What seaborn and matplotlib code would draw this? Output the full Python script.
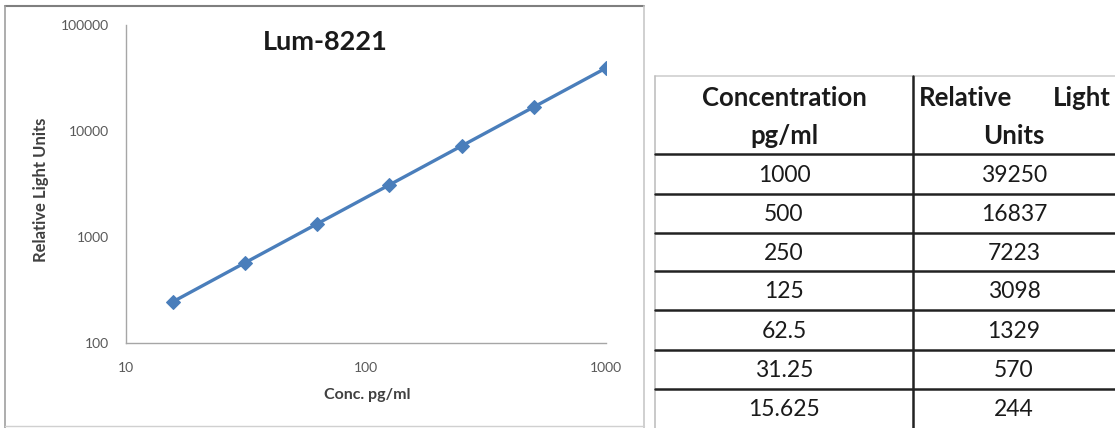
import matplotlib
matplotlib.use("Agg")
import matplotlib.pyplot as plt
import seaborn as sns
import pandas as pd

# ---- data ----
conc = [1000, 500, 250, 125, 62.5, 31.25, 15.625]
rlu = [39250, 16837, 7223, 3098, 1329, 570, 244]
conc_labels = ["1000", "500", "250", "125", "62.5", "31.25", "15.625"]
rlu_labels = ["39250", "16837", "7223", "3098", "1329", "570", "244"]
title = "Lum-8221"
xlabel = "Conc. pg/ml"
ylabel = "Relative Light Units"
header_left = ["Concentration", "pg/ml"]
header_right_words = ["Relative", "Light"]
header_right_line2 = "Units"

sns.set_theme(style="white")
plt.rcParams['font.family'] = ['Lato', 'DejaVu Sans']

W, H = 1115, 428
fig = plt.figure(figsize=(W / 100, H / 100), dpi=100)
fig.patch.set_facecolor("white")

# overlay axes in pixel coordinates for frame and table
ov = fig.add_axes([0, 0, 1, 1], zorder=0)
ov.set_xlim(0, W)
ov.set_ylim(H, 0)
ov.axis("off")

# chart frame
ov.plot([5, 644], [6, 6], color="#7f7f7f", lw=1.5)
ov.plot([5, 5], [6, H], color="#a0a0a0", lw=1.2)
ov.plot([644, 644], [6, H], color="#c8c8c8", lw=1.2)
ov.plot([5, 644], [426, 426], color="#d0d0d0", lw=1.0)

# ---- chart ----
x0, x1, y0, y1 = 126, 606, 25, 343
ax = fig.add_axes([x0 / W, 1 - y1 / H, (x1 - x0) / W, (y1 - y0) / H], zorder=2)
ax.patch.set_alpha(0)
df = pd.DataFrame({"conc": conc, "rlu": rlu})
sns.lineplot(data=df, x="conc", y="rlu", ax=ax, color="#4A7EBB", lw=2.4,
             marker="D", markersize=7, markeredgecolor="#4A7EBB",
             markerfacecolor="#4A7EBB")
ax.set_xscale("log")
ax.set_yscale("log")
ax.set_xlim(10, 1000)
ax.set_ylim(100, 100000)
for s in ["top", "right"]:
    ax.spines[s].set_visible(False)
for s in ["left", "bottom"]:
    ax.spines[s].set_color("#a6a6a6")
    ax.spines[s].set_linewidth(1.0)
ax.tick_params(which="major", direction="inout", length=6, width=0.8,
               color="#a6a6a6", labelsize=10, labelcolor="#595959")
ax.tick_params(axis="y", which="major", pad=9)
ax.tick_params(axis="x", which="major", pad=11)
ax.tick_params(which="minor", direction="inout", length=3.5, width=0.6,
               color="#b0b0b0")
ax.xaxis.set_major_formatter(matplotlib.ticker.FuncFormatter(lambda v, p: f"{v:g}"))
ax.yaxis.set_major_formatter(matplotlib.ticker.FuncFormatter(lambda v, p: f"{v:.0f}"))
ax.set_xlabel(xlabel, fontsize=11.5, fontweight="bold", color="#404040")
ax.set_ylabel(ylabel, fontsize=12, fontweight="bold", color="#404040")
ax.yaxis.set_label_coords((49 - x0) / (x1 - x0), (y1 - 190) / (y1 - y0))
ax.xaxis.set_label_coords((367 - x0) / (x1 - x0), (y1 - 388) / (y1 - y0))
ax.grid(False)

fig.text(325 / W, 1 - 42 / H, title, fontsize=19.5, fontweight="bold",
         color="#1a1a1a", ha="center", va="center")

# ---- table ----
tl, tm, tr = 655, 913, 1115
ttop = 76
row_lines = [154, 194, 233, 271, 310, 350, 389, 428]
ov.plot([tl, tr], [ttop, ttop], color="#d0d0d0", lw=1.2)
ov.plot([tl, tl], [ttop, H], color="#c0c0c0", lw=1.2)
ov.plot([tm, tm], [ttop, H], color="#222222", lw=1.8)
for yy in row_lines[:-1]:
    ov.plot([tl, tr], [yy, yy], color="#222222", lw=1.8)

tc = "#1a1a1a"
fsh = 18.5
fs = 16.5
cl = (tl + tm) / 2
cr = (tm + tr) / 2
ov.text(cl, 98, header_left[0], fontsize=fsh, fontweight="bold", color=tc,
        ha="center", va="center")
ov.text(cl, 136, header_left[1], fontsize=fsh, fontweight="bold", color=tc,
        ha="center", va="center")
ov.text(919, 98, header_right_words[0], fontsize=fsh, fontweight="bold", color=tc,
        ha="left", va="center")
ov.text(1111, 98, header_right_words[1], fontsize=fsh, fontweight="bold", color=tc,
        ha="right", va="center")
ov.text(cr, 136, header_right_line2, fontsize=fsh, fontweight="bold", color=tc,
        ha="center", va="center")
for i, (a, b) in enumerate(zip(conc_labels, rlu_labels)):
    yc = (row_lines[i] + row_lines[i + 1]) / 2 + 1
    ov.text(cl, yc, a, fontsize=fs, color=tc, ha="center", va="center")
    ov.text(cr, yc, b, fontsize=fs, color=tc, ha="center", va="center")

fig.savefig("out.png", dpi=100)
